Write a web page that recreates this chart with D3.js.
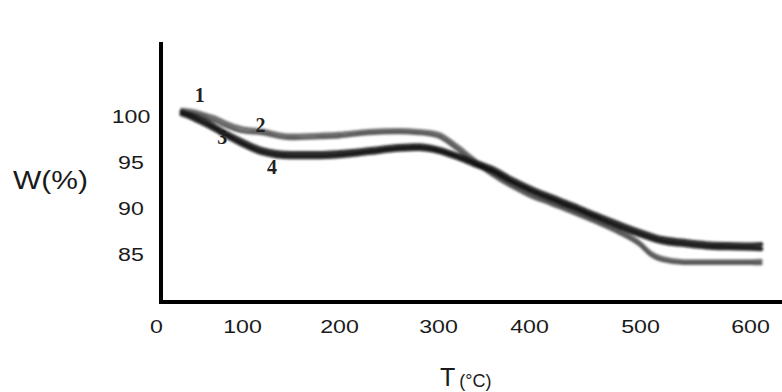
<!DOCTYPE html>
<html>
<head>
<meta charset="utf-8">
<script src="https://cdn.jsdelivr.net/npm/d3@7/dist/d3.min.js"></script>
<style>
  html, body { margin: 0; padding: 0; background: #fff; }
  svg { display: block; }
  text { font-family: "Liberation Sans", Arial, sans-serif; fill: #1a1a1a; }
  .num { font-family: "Liberation Serif", "Times New Roman", serif; font-weight: bold; fill: #222; }
</style>
</head>
<body>
<svg id="chart" width="782" height="392"></svg>
<script>
// ---- data ----
const tempTicks = [0, 100, 200, 300, 400, 500, 600];
const weightTicks = [85, 90, 95, 100];
const temps = [30, 40, 50, 60, 70, 80, 100, 120, 150, 180, 200, 230, 260, 280, 300, 320, 340, 360, 380, 400, 420, 440, 460, 480, 500, 510, 520, 540, 560, 580, 600, 610];
const curve1 = [100.7, 100.6, 100.4, 100.1, 99.8, 99.35, 98.7, 98.45, 97.9, 98.0, 98.1, 98.4, 98.5, 98.4, 98.1, 96.85, 95.3, 93.85, 92.65, 91.65, 90.65, 89.7, 88.7, 87.65, 86.25, 85.15, 84.6, 84.25, 84.25, 84.25, 84.25, 84.3];
const curve2 = [100.45, 100.3, 100.1, 99.75, 99.4, 98.95, 98.3, 98.1, 97.55, 97.65, 97.75, 98.1, 98.2, 98.1, 97.75, 96.45, 94.95, 93.55, 92.35, 91.35, 90.4, 89.45, 88.45, 87.35, 85.95, 84.85, 84.3, 84.0, 84.0, 84.0, 84.0, 83.95];
const curve3 = [100.5, 100.2, 99.8, 99.35, 98.8, 98.25, 97.3, 96.4, 95.95, 95.95, 96.05, 96.35, 96.7, 96.8, 96.45, 95.8, 95.05, 94.3, 93.2, 92.25, 91.25, 90.3, 89.3, 88.35, 87.45, 87.05, 86.7, 86.4, 86.15, 86.05, 86.0, 86.05];
const curve4 = [100.2, 99.85, 99.4, 98.95, 98.45, 97.9, 96.9, 96.0, 95.55, 95.55, 95.65, 96.0, 96.35, 96.45, 96.15, 95.5, 94.7, 93.95, 92.85, 91.9, 90.9, 89.95, 88.95, 87.95, 87.05, 86.65, 86.3, 86.0, 85.75, 85.65, 85.6, 85.55];
const curveNames = ["1", "2", "3", "4"];
const labelT = [51, 119, 77, 131];
const labelW = [101.5, 98.26, 96.96, 93.7];

// ---- layout ----
const tickPx = [156, 242, 339, 438, 529, 640, 750];
const svg = d3.select("#chart");
const x = d3.scaleLinear().domain(tempTicks).range(tickPx);
const y = d3.scaleLinear().domain([85, 100]).range([254, 116]);

const defs = svg.append("defs");
defs.append("filter").attr("id", "soft")
  .attr("x", "-5%").attr("y", "-20%").attr("width", "110%").attr("height", "140%")
  .append("feGaussianBlur").attr("stdDeviation", 0.9);

// curves
const series = [
  { vals: curve1, color: "#5e5e5e", w: 3.4 },
  { vals: curve2, color: "#4a4a4a", w: 3.4 },
  { vals: curve3, color: "#1a1a1a", w: 4.6 },
  { vals: curve4, color: "#0d0d0d", w: 4.6 }
];
const line = d3.line().x((d, i) => x(temps[i])).y(d => y(d)).curve(d3.curveMonotoneX);
const cg = svg.append("g").attr("filter", "url(#soft)");
cg.selectAll("path").data(series).join("path")
  .attr("d", s => line(s.vals))
  .attr("fill", "none")
  .attr("stroke", s => s.color)
  .attr("stroke-width", s => s.w)
  .attr("stroke-linecap", "round")
  .attr("stroke-linejoin", "round")
  .attr("stroke-opacity", 0.9);

// curve labels
svg.append("g").selectAll("text").data(curveNames).join("text")
  .attr("class", "num")
  .attr("x", (d, i) => x(labelT[i]))
  .attr("y", (d, i) => y(labelW[i]))
  .attr("text-anchor", "middle")
  .attr("font-size", 20)
  .text(d => d);

// axis lines
svg.append("line").attr("x1", 161).attr("x2", 161).attr("y1", 42).attr("y2", 304)
  .attr("stroke", "#000").attr("stroke-width", 4);
svg.append("line").attr("x1", 159).attr("x2", 782).attr("y1", 302).attr("y2", 302)
  .attr("stroke", "#000").attr("stroke-width", 4);

// x axis labels
const gx = svg.append("g").attr("transform", "translate(0,319)")
  .call(d3.axisBottom(x).tickValues(tempTicks).tickSize(0).tickPadding(0).tickFormat(d3.format("d")));
gx.select(".domain").remove();
gx.selectAll("text").attr("font-size", 19).attr("font-family", null).attr("fill", "#1a1a1a")
  .attr("transform", "scale(1.22,1)");

// y axis labels
const gy = svg.append("g").attr("transform", "translate(131,0)")
  .call(d3.axisLeft(y).tickValues(weightTicks).tickSize(0).tickPadding(0).tickFormat(d3.format("d")));
gy.select(".domain").remove();
gy.selectAll("text").attr("x", 0).attr("text-anchor", "middle").attr("font-size", 19)
  .attr("font-family", null).attr("fill", "#1a1a1a").attr("transform", "scale(1.22,1)");

// axis titles
svg.append("text").attr("transform", "translate(13,189) scale(1.2,1)")
  .attr("font-size", 25).text("W(%)");
const tt = svg.append("text").attr("transform", "translate(440,386)");
tt.append("tspan").attr("font-size", 25).text("T");
tt.append("tspan").attr("font-size", 18).attr("dx", 4).attr("dy", 1).text("(°C)");
</script>
</body>
</html>
